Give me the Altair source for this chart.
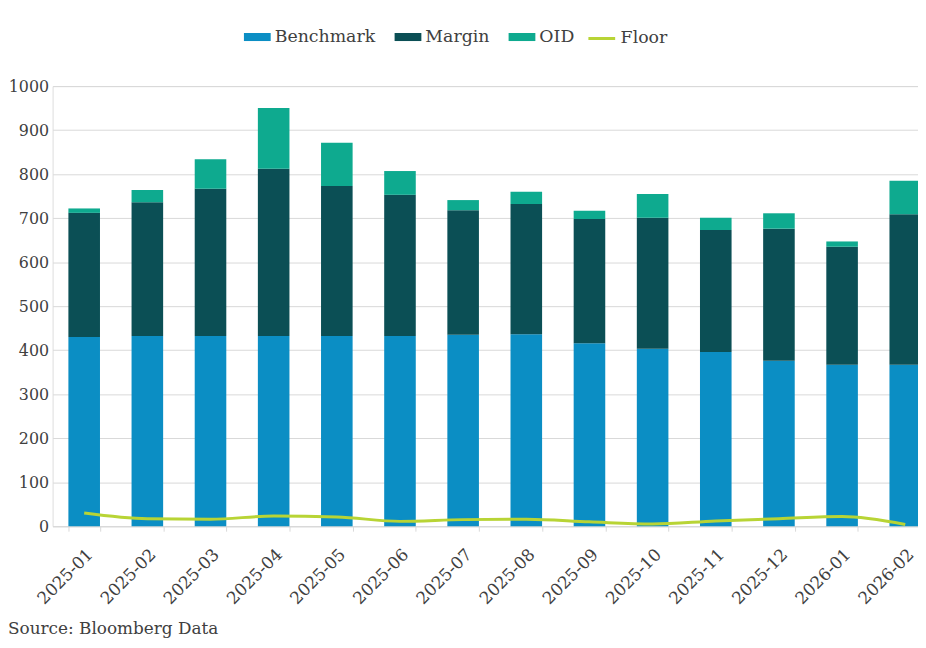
import altair as alt
import pandas as pd

months = ["2025-01", "2025-02", "2025-03", "2025-04", "2025-05", "2025-06", "2025-07",
          "2025-08", "2025-09", "2025-10", "2025-11", "2025-12", "2026-01", "2026-02"]
benchmark = [430, 432, 432, 432, 432, 432, 435, 436, 416, 403, 396, 376, 367, 367]
margin = [282, 304, 335, 380, 341, 321, 283, 296, 282, 298, 277, 300, 268, 342]
oid = [10, 28, 67, 138, 98, 54, 23, 28, 19, 54, 28, 35, 12, 76]
floor = [30, 17, 16, 23, 21, 11, 15, 16, 10, 5, 12, 17, 22, 4]
series = ["Benchmark", "Margin", "OID"]
colors = ["#0b8ec4", "#0b4f55", "#0eaa8f"]
floor_name = ["Floor"]
floor_color = ["#b8d435"]
y_ticks = [0, 100, 200, 300, 400, 500, 600, 700, 800, 900, 1000]

rows = []
for i, m in enumerate(months):
    for k, (name, vals) in enumerate(zip(series, [benchmark, margin, oid])):
        rows.append({"month": m, "series": name, "value": vals[i], "ord": k})
bars_df = pd.DataFrame(rows)
floor_df = pd.DataFrame({"month": months, "value": floor, "series": floor_name * len(months)})

FONT = "DejaVu Serif"
TXT = "#404040"
GRID = "#d9d9d9"
LEFT = 45

x_enc = alt.X(
    "month:N", sort=months, title=None,
    scale=alt.Scale(paddingInner=0.5, paddingOuter=0.25),
    axis=alt.Axis(labelAngle=-45, labelFontSize=17, labelColor=TXT, labelFont=FONT,
                  domainColor=GRID, tickColor=GRID, tickSize=5, tickBand="extent",
                  labelPadding=15, grid=False),
)
y_scale = alt.Scale(domain=[0, 1000], nice=False)
y_axis = alt.Axis(values=y_ticks, format="d", domain=False, ticks=False, labelPadding=4,
                  labelFontSize=16, labelColor=TXT, labelFont=FONT, grid=True,
                  gridColor=GRID, title=None)

bars = alt.Chart(bars_df).mark_bar().encode(
    x=x_enc,
    y=alt.Y("value:Q", stack="zero", scale=y_scale, axis=y_axis),
    color=alt.Color("series:N", scale=alt.Scale(domain=series, range=colors),
                    legend=alt.Legend(title=None, orient="none", legendX=193, legendY=-63,
                                      direction="horizontal",
                                      symbolType="M-1,-0.3H1V0.3H-1Z", symbolSize=729,
                                      symbolStrokeWidth=0, labelOffset=4, columnPadding=19,
                                      labelFont=FONT, labelFontSize=17.5, labelColor=TXT,
                                      padding=0)),
    order=alt.Order("ord:Q", sort="ascending"),
)

line = alt.Chart(floor_df).mark_line(strokeWidth=3, interpolate="monotone").encode(
    x=x_enc,
    y=alt.Y("value:Q", scale=y_scale, axis=y_axis),
    stroke=alt.Stroke("series:N", scale=alt.Scale(domain=floor_name, range=floor_color),
                      legend=alt.Legend(title=None, orient="none", legendX=539, legendY=-63,
                                        direction="horizontal", symbolType="stroke",
                                        symbolSize=729, symbolStrokeWidth=3, labelOffset=4,
                                        labelFont=FONT, labelFontSize=17.5, labelColor=TXT,
                                        padding=0)),
)

chart = alt.layer(bars, line).properties(
    width=892, height=444,
    autosize=alt.AutoSizeParams(type="none"),
    padding={"left": LEFT, "top": 76, "right": -19, "bottom": 112},
    title=alt.TitleParams("Source: Bloomberg Data", orient="bottom", anchor="start",
                          frame="group", dx=-LEFT, offset=14, font=FONT, fontSize=17,
                          fontWeight="normal", color=TXT),
).configure_view(stroke=None).configure(background="white")

chart.save("out.html", embed_options={"renderer": "svg", "actions": False})
